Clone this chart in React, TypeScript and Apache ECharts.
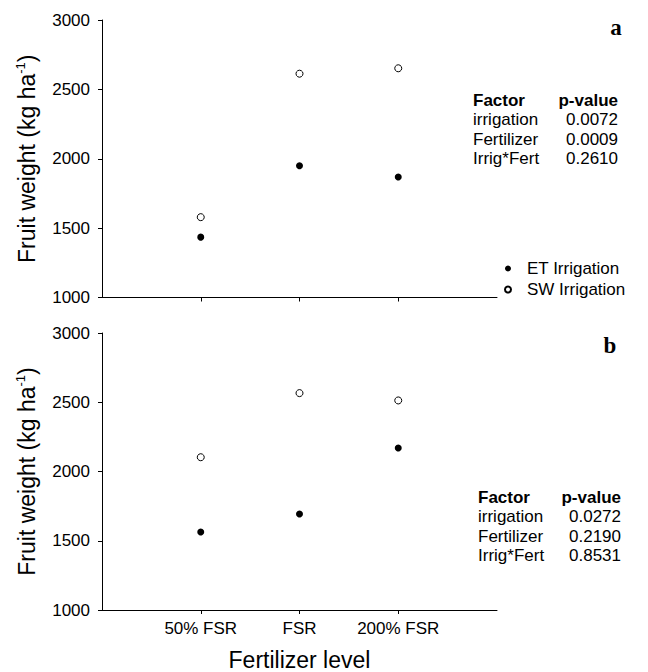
import React, { useEffect, useRef } from "react";
import * as echarts from "echarts";

const categories = ["50% FSR", "FSR", "200% FSR"];
const etA = [1435, 1950, 1869];
const swA = [1579, 2613, 2652];
const etB = [1563, 1693, 2170];
const swB = [2103, 2566, 2513];
const yTicks = [1000, 1500, 2000, 2500, 3000];
const factorNames = ["irrigation", "Fertilizer", "Irrig*Fert"];
const pValuesA = ["0.0072", "0.0009", "0.2610"];
const pValuesB = ["0.0272", "0.2190", "0.8531"];

const FONT = "Liberation Sans, Arial, sans-serif";

export default function App() {
  const ref = useRef<HTMLDivElement>(null);
  useEffect(() => {
    if (!ref.current) return;
    const chart = echarts.init(ref.current, null, { renderer: "svg" });
    const toPts = (arr: number[]) => arr.map((v, i) => [i + 1, v]);
    const xAxisBase = (showLabels: boolean, gridIndex: number) => ({
      type: "value",
      gridIndex,
      min: 0,
      max: 4,
      interval: 1,
      splitLine: { show: false },
      axisLine: { show: true, onZero: false, lineStyle: { color: "#000", width: 1 } },
      axisTick: {
        show: true,
        length: 4,
        inside: false,
        customValues: [1, 2, 3],
        lineStyle: { color: "#000" },
      },
      axisLabel: {
        show: showLabels,
        customValues: [1, 2, 3],
        formatter: (v: number) => categories[v - 1] ?? "",
        color: "#000",
        fontSize: 17,
        fontFamily: FONT,
        margin: 10,
      },
      name: showLabels ? "Fertilizer level" : "",
      nameLocation: "middle",
      nameGap: 38,
      nameTextStyle: { color: "#000", fontSize: 23, fontFamily: FONT },
    });
    const yAxisBase = (gridIndex: number) => ({
      type: "value",
      gridIndex,
      min: yTicks[0],
      max: yTicks[yTicks.length - 1],
      interval: 500,
      splitLine: { show: false },
      axisLine: { show: true, lineStyle: { color: "#000", width: 1 } },
      axisTick: { show: true, length: 4, lineStyle: { color: "#000" } },
      axisLabel: {
        color: "#000",
        fontSize: 17,
        fontFamily: FONT,
        margin: 12,
        formatter: (v: number) => String(v),
      },
      name: "Fruit weight (kg ha{sup|-1})",
      nameLocation: "middle",
      nameRotate: 90,
      nameGap: 63,
      nameTextStyle: {
        color: "#000",
        fontSize: 23,
        fontFamily: FONT,
        rich: {
          sup: { fontSize: 13, fontFamily: FONT, color: "#000", verticalAlign: "top", padding: [0, 0, 12, 0] },
        },
      },
    });
    const filled = { color: "#000", opacity: 1 };
    const open = { color: "#fff", borderColor: "#000", borderWidth: 1, opacity: 1 };
    const table = (x: number, right: number, y0: number, vals: string[]) => {
      const els: any[] = [
        { type: "text", x, y: y0, style: { text: "Factor", font: `bold 17px ${FONT}`, fill: "#000", textAlign: "left", textVerticalAlign: "middle" } },
        { type: "text", x: right, y: y0, style: { text: "p-value", font: `bold 17px ${FONT}`, fill: "#000", textAlign: "right", textVerticalAlign: "middle" } },
      ];
      factorNames.forEach((f, i) => {
        const y = y0 + 19.5 * (i + 1);
        els.push({ type: "text", x, y, style: { text: f, font: `17px ${FONT}`, fill: "#000", textAlign: "left", textVerticalAlign: "middle" } });
        els.push({ type: "text", x: right, y, style: { text: vals[i], font: `17px ${FONT}`, fill: "#000", textAlign: "right", textVerticalAlign: "middle" } });
      });
      return els;
    };
    chart.setOption({
      animation: false,
      backgroundColor: "#fff",
      grid: [
        { left: 102, top: 20, width: 395, height: 277.5 },
        { left: 102, top: 333, width: 395, height: 278 },
      ],
      xAxis: [xAxisBase(false, 0), xAxisBase(true, 1)],
      yAxis: [yAxisBase(0), yAxisBase(1)],
      legend: {
        orient: "vertical",
        left: 499,
        top: 255,
        itemWidth: 8,
        itemHeight: 6,
        itemGap: 4,
        icon: "circle",
        textStyle: { color: "#000", fontSize: 17, fontFamily: FONT, padding: [0, 0, 0, 10] },
        data: ["ET Irrigation", "SW Irrigation"],
      },
      series: [
        { name: "ET Irrigation", type: "scatter", xAxisIndex: 0, yAxisIndex: 0, symbol: "circle", symbolSize: 7, itemStyle: filled, data: toPts(etA) },
        { name: "SW Irrigation", type: "scatter", xAxisIndex: 0, yAxisIndex: 0, symbol: "circle", symbolSize: 7, itemStyle: open, data: toPts(swA) },
        { name: "ET Irrigation", type: "scatter", xAxisIndex: 1, yAxisIndex: 1, symbol: "circle", symbolSize: 7, itemStyle: filled, data: toPts(etB) },
        { name: "SW Irrigation", type: "scatter", xAxisIndex: 1, yAxisIndex: 1, symbol: "circle", symbolSize: 7, itemStyle: open, data: toPts(swB) },
      ],
      graphic: [
        { type: "text", x: 616, y: 27, style: { text: "a", font: `bold 23px "Liberation Serif", "Times New Roman", serif`, fill: "#000", textAlign: "center", textVerticalAlign: "middle" } },
        { type: "text", x: 610, y: 345, style: { text: "b", font: `bold 23px "Liberation Serif", "Times New Roman", serif`, fill: "#000", textAlign: "center", textVerticalAlign: "middle" } },
        ...table(473, 618, 100, pValuesA),
        ...table(478, 621, 497, pValuesB),
      ],
    });
    return () => chart.dispose();
  }, []);
  return <div ref={ref} style={{ width: 648, height: 672, position: "absolute", left: 0, top: 0 }} />;
}
